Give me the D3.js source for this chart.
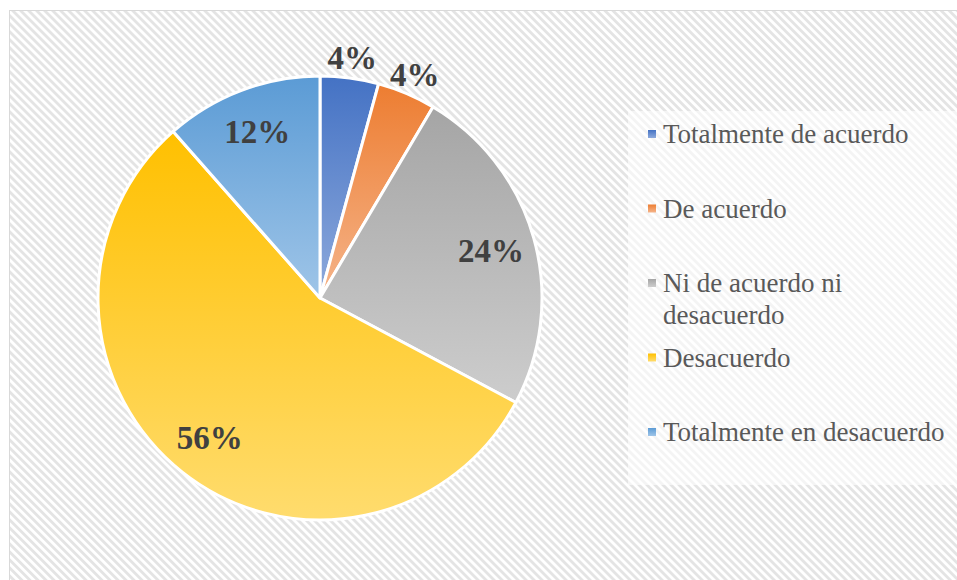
<!DOCTYPE html>
<html>
<head>
<meta charset="utf-8">
<script src="https://cdn.jsdelivr.net/npm/d3@7"></script>
<style>
  html, body { margin: 0; padding: 0; background: #fff; }
  svg { display: block; }
</style>
</head>
<body>
<svg id="chart"></svg>
<script>
const categories = ['Totalmente de acuerdo', 'De acuerdo', 'Ni de acuerdo ni desacuerdo', 'Desacuerdo', 'Totalmente en desacuerdo'];
const legendLines = [['Totalmente de acuerdo'], ['De acuerdo'], ['Ni de acuerdo ni', 'desacuerdo'], ['Desacuerdo'], ['Totalmente en desacuerdo']];
const shares = [4.25, 4.25, 24.3, 55.7, 11.5];
const topColors = ['#4472c4', '#ed7d31', '#a5a5a5', '#ffc000', '#5b9bd5'];
const bottomColors = ['#8eaadc', '#f5b48a', '#cdcdcd', '#ffdc6e', '#9fc5e8'];

const width = 957, height = 580;
const cx = 320, cy = 298, radius = 222;

const svg = d3.select('#chart').attr('width', width).attr('height', height);
const defs = svg.append('defs');

// diagonal hatch background
const pat = defs.append('pattern').attr('id', 'hatch').attr('patternUnits', 'userSpaceOnUse')
  .attr('width', 5.66).attr('height', 10).attr('patternTransform', 'rotate(-45)');
pat.append('rect').attr('width', 5.66).attr('height', 10).attr('fill', '#ffffff');
pat.append('rect').attr('width', 2.8).attr('height', 10).attr('fill', '#e4e4e4');

categories.forEach((c, i) => {
  const g = defs.append('linearGradient').attr('id', 'grad' + i).attr('x1', 0).attr('y1', 0).attr('x2', 0).attr('y2', 1);
  g.append('stop').attr('offset', '0%').attr('stop-color', topColors[i]);
  g.append('stop').attr('offset', '100%').attr('stop-color', bottomColors[i]);
});

svg.append('rect').attr('x', 9.5).attr('y', 10.5).attr('width', width).attr('height', height)
  .attr('fill', 'url(#hatch)').attr('stroke', '#d9d9d9').attr('stroke-width', 1);

// pie
const pie = d3.pie().sort(null).value(d => d);
const arcs = pie(shares);
const arc = d3.arc().innerRadius(0).outerRadius(radius);

const g = svg.append('g').attr('transform', `translate(${cx},${cy})`);
g.selectAll('path.slice').data(arcs).enter().append('path').attr('class', 'slice')
  .attr('d', arc)
  .attr('fill', (d, i) => `url(#grad${i})`)
  .attr('stroke', '#ffffff').attr('stroke-width', 3).attr('stroke-linejoin', 'round');

const outerLabel = d3.arc().innerRadius(radius + 21).outerRadius(radius + 21);
const innerLabel = d3.arc().innerRadius(radius * 0.8).outerRadius(radius * 0.8);
g.selectAll('text.lbl').data(arcs).enter().append('text').attr('class', 'lbl')
  .attr('transform', d => `translate(${(d.value < 5 ? outerLabel : innerLabel).centroid(d)})`)
  .attr('text-anchor', 'middle').attr('dy', '0.35em')
  .style('font-family', '"Liberation Serif", "Times New Roman", serif')
  .style('font-weight', 'bold').style('font-size', '33px').attr('fill', '#404040')
  .text(d => Math.round(d.value) + '%');

// legend
svg.append('rect').attr('x', 628).attr('y', 111).attr('width', 329).attr('height', 374)
  .attr('fill', '#ffffff').attr('fill-opacity', 0.6);
const ly = d3.scalePoint().domain(categories).range([134, 432]);
const items = svg.selectAll('g.leg').data(categories).enter().append('g').attr('class', 'leg')
  .attr('transform', d => `translate(648,${ly(d)})`);
items.append('rect').attr('x', 0).attr('y', -4).attr('width', 8).attr('height', 8)
  .attr('fill', (d, i) => `url(#grad${i})`);
items.append('text').attr('x', 15)
  .style('font-family', '"Liberation Serif", "Times New Roman", serif')
  .style('font-size', '27px').attr('fill', '#595959')
  .each(function (d, i) {
    const t = d3.select(this);
    legendLines[i].forEach((line, j) => {
      t.append('tspan').attr('x', 15).attr('y', j * 32).attr('dy', '0.35em').text(line);
    });
  });
</script>
</body>
</html>
